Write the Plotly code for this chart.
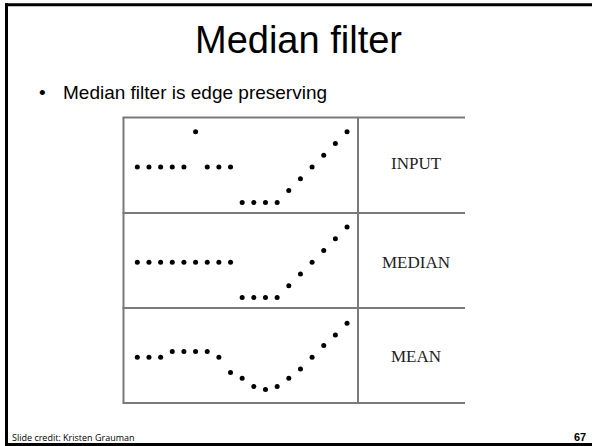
import plotly.graph_objects as go

W, H = 592, 446

# signal values (19 samples per row)
idx = list(range(19))
input_vals = [3, 3, 3, 3, 3, 6, 3, 3, 3, 0, 0, 0, 0, 1, 2, 3, 4, 5, 6]
median_vals = [3, 3, 3, 3, 3, 3, 3, 3, 3, 0, 0, 0, 0, 1, 2, 3, 4, 5, 6]
mean_vals = [3, 3, 3, 3.5, 3.5, 3.5, 3.5, 3, 1.7, 1.2, 0.5, 0.25, 0.5, 1.2, 2, 3, 4, 4.9, 5.9]
row_labels = ["INPUT", "MEDIAN", "MEAN"]


def px(x):
    return x / W


def py(y):
    return 1 - y / H


# table geometry in pixels
tx0, tdiv, tx1 = 123.5, 358, 465
rows_y = [117.5, 213, 308, 403]

fig = go.Figure()
series = [input_vals, median_vals, mean_vals]
for i, vals in enumerate(series):
    n = "" if i == 0 else str(i + 1)
    fig.add_trace(go.Scatter(
        x=idx, y=vals, mode="markers",
        marker=dict(color="black", size=5),
        xaxis="x" + n, yaxis="y" + n, showlegend=False, hoverinfo="skip",
    ))
    fig.layout["xaxis" + n] = dict(
        domain=[px(tx0), px(tdiv)], range=[-1.185, 18.94],
        visible=False, anchor="y" + n, fixedrange=True,
    )
    fig.layout["yaxis" + n] = dict(
        domain=[py(rows_y[i + 1]), py(rows_y[i])], range=[-0.9, 7.2],
        visible=False, anchor="x" + n, fixedrange=True,
    )

shapes = []
grey = dict(color="#7a7a7a", width=2)
for y in rows_y:
    shapes.append(dict(type="line", xref="paper", yref="paper",
                       x0=px(tx0 - 1), x1=px(tx1), y0=py(y), y1=py(y), line=grey))
for x in (tx0, tdiv):
    shapes.append(dict(type="line", xref="paper", yref="paper",
                       x0=px(x), x1=px(x), y0=py(rows_y[0]), y1=py(rows_y[-1]), line=grey))
# slide frame
blk = dict(color="black", width=3)
shapes.append(dict(type="line", xref="paper", yref="paper",
                   x0=px(5), x1=1, y0=py(4.7), y1=py(4.7), line=blk))
shapes.append(dict(type="line", xref="paper", yref="paper",
                   x0=px(6.5), x1=px(6.5), y0=py(3.2), y1=py(446), line=blk))
shapes.append(dict(type="line", xref="paper", yref="paper",
                   x0=px(5), x1=1, y0=py(444.5), y1=py(444.5), line=blk))

ann = []
ann.append(dict(text="Median filter", x=px(298), y=py(40), xanchor="center", yanchor="middle",
                font=dict(family="Liberation Sans, Arial", size=38, color="black")))
ann.append(dict(text="•", x=px(43), y=py(92), xanchor="center", yanchor="middle",
                font=dict(family="Liberation Sans, Arial", size=19, color="black")))
ann.append(dict(text="Median filter is edge preserving", x=px(60.5), y=py(92),
                xanchor="left", yanchor="middle",
                font=dict(family="Liberation Sans, Arial", size=19, color="black")))
label_y = [164, 262, 356]
for lab, y in zip(row_labels, label_y):
    ann.append(dict(text=lab, x=px(416), y=py(y), xanchor="center", yanchor="middle",
                    font=dict(family="Liberation Serif, Times New Roman", size=17, color="#222222")))
ann.append(dict(text="Slide credit: Kristen Grauman", x=px(9.5), y=py(437),
                xanchor="left", yanchor="middle",
                font=dict(family="Open Sans", size=9, color="black")))
ann.append(dict(text="<b>67</b>", x=px(588), y=py(437), xanchor="right", yanchor="middle",
                font=dict(family="Liberation Sans, Arial", size=11, color="black")))
for a in ann:
    a.update(xref="paper", yref="paper", showarrow=False)

fig.update_layout(
    width=W, height=H, margin=dict(l=0, r=0, t=0, b=0),
    paper_bgcolor="white", plot_bgcolor="white",
    shapes=shapes, annotations=ann,
)

fig.write_html("out.html", config={"displayModeBar": False},
               post_script="document.body.style.margin='0';")
